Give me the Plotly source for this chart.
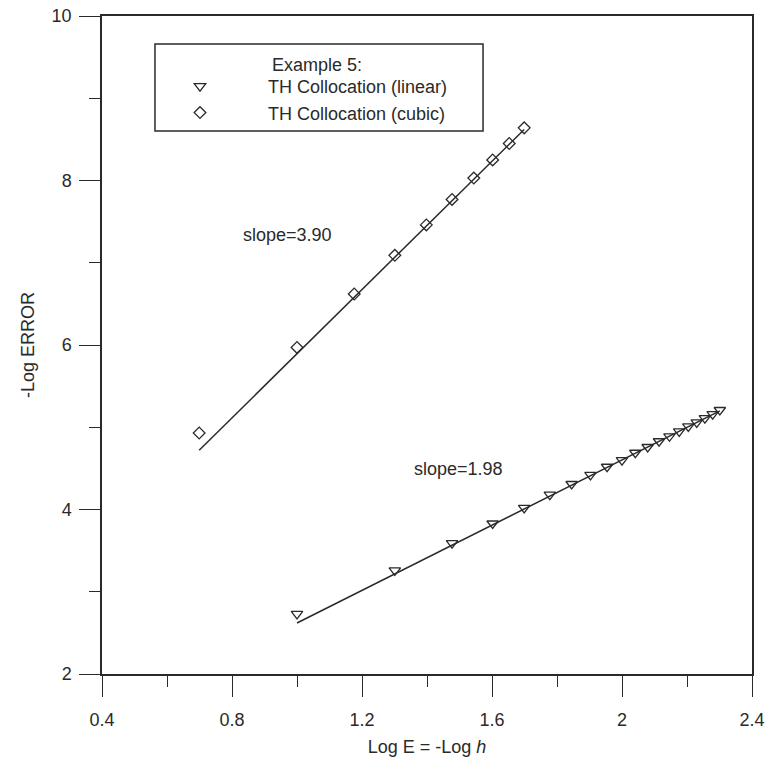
import plotly.graph_objects as go

# Data
cubic_x = [0.699, 1.000, 1.176, 1.301, 1.398, 1.477, 1.544, 1.602, 1.653, 1.699]
cubic_y = [4.93, 5.97, 6.62, 7.09, 7.46, 7.77, 8.03, 8.25, 8.45, 8.64]

linear_x = [1.000, 1.301, 1.477, 1.602, 1.699, 1.778, 1.845, 1.903, 1.954, 2.000,
            2.041, 2.079, 2.114, 2.146, 2.176, 2.204, 2.230, 2.255, 2.279, 2.301]
linear_y = [2.73, 3.26, 3.59, 3.83, 4.02, 4.18, 4.31, 4.42, 4.52, 4.60,
            4.69, 4.76, 4.83, 4.89, 4.95, 5.01, 5.06, 5.11, 5.16, 5.21]

fit_cubic_x = [0.699, 1.699]
fit_cubic_y = [4.72, 8.62]
fit_linear_x = [1.000, 2.301]
fit_linear_y = [2.62, 5.20]

slope_labels = ["slope=3.90", "slope=1.98"]
slope_x = [0.972, 1.496]
slope_y = [7.34, 4.49]

legend_heading = "Example 5:"

x_ticks = [0.4, 0.8, 1.2, 1.6, 2.0, 2.4]
x_ticklabels = ["0.4", "0.8", "1.2", "1.6", "2", "2.4"]
y_ticks = [2, 4, 6, 8, 10]

INK = "#2a2a2a"
FONT = "Liberation Sans, Arial, sans-serif"
FS = 18

fig = go.Figure()

fig.add_trace(go.Scatter(
    x=fit_linear_x, y=fit_linear_y, mode="lines",
    line=dict(color=INK, width=1.5), showlegend=False))
fig.add_trace(go.Scatter(
    x=fit_cubic_x, y=fit_cubic_y, mode="lines",
    line=dict(color=INK, width=1.5), showlegend=False))

fig.add_trace(go.Scatter(
    x=linear_x, y=linear_y, mode="markers", name="TH Collocation (linear)",
    marker=dict(symbol="triangle-down-open", size=10, color=INK, line=dict(width=1.3))))
fig.add_trace(go.Scatter(
    x=cubic_x, y=cubic_y, mode="markers", name="TH Collocation (cubic)",
    marker=dict(symbol="diamond-open", size=9, color=INK, line=dict(width=1.3))))

for t, x, y in zip(slope_labels, slope_x, slope_y):
    fig.add_annotation(x=x, y=y, text=t, showarrow=False,
                       font=dict(family=FONT, size=FS, color=INK))

# legend heading and frame
fig.add_annotation(xref="paper", yref="paper", x=0.2585, y=0.9255,
                   xanchor="left", yanchor="middle", text=legend_heading,
                   showarrow=False, font=dict(family=FONT, size=FS, color=INK))
fig.add_shape(type="rect", xref="paper", yref="paper",
              x0=0.0815, x1=0.5862, y0=0.8252, y1=0.9574,
              line=dict(color=INK, width=1.5), fillcolor="rgba(0,0,0,0)")

axis_common = dict(
    showgrid=False, zeroline=False, showline=True, linecolor=INK, linewidth=1.5,
    mirror=True, ticks="outside", ticklen=21, tickwidth=1.3, tickcolor=INK,
    tickfont=dict(family=FONT, size=FS, color=INK), automargin=False,
    ticklabeloverflow="allow",
)

fig.update_xaxes(
    range=[0.4, 2.4], tickvals=x_ticks, ticktext=x_ticklabels,
    ticklabelstandoff=8,
    minor=dict(ticks="outside", ticklen=11, tickwidth=1.3, tickcolor=INK, dtick=0.2, tick0=0.4),
    title=dict(text="Log E = -Log <i>h</i>", font=dict(family=FONT, size=FS, color=INK), standoff=11),
    **axis_common)
fig.update_yaxes(
    range=[2, 10], tickvals=y_ticks,
    ticklabelstandoff=4,
    minor=dict(ticks="outside", ticklen=11, tickwidth=1.3, tickcolor=INK, dtick=1, tick0=2),
    title=dict(text="-Log ERROR", font=dict(family=FONT, size=FS, color=INK), standoff=12),
    **axis_common)

fig.update_layout(
    width=772, height=763,
    margin=dict(l=102, r=20, t=16, b=89),
    paper_bgcolor="white", plot_bgcolor="white",
    font=dict(family=FONT, size=FS, color=INK),
    legend=dict(x=0.04615, y=0.921, xanchor="left", yanchor="top",
                borderwidth=0, bgcolor="rgba(255,255,255,0)",
                font=dict(family=FONT, size=FS, color=INK),
                itemwidth=126, tracegroupgap=0),
    showlegend=True,
)

# remove the default page margin so the figure fills the window exactly
fig.write_html("out.html", config={"displayModeBar": False},
               post_script="document.body.style.margin='0px';")
